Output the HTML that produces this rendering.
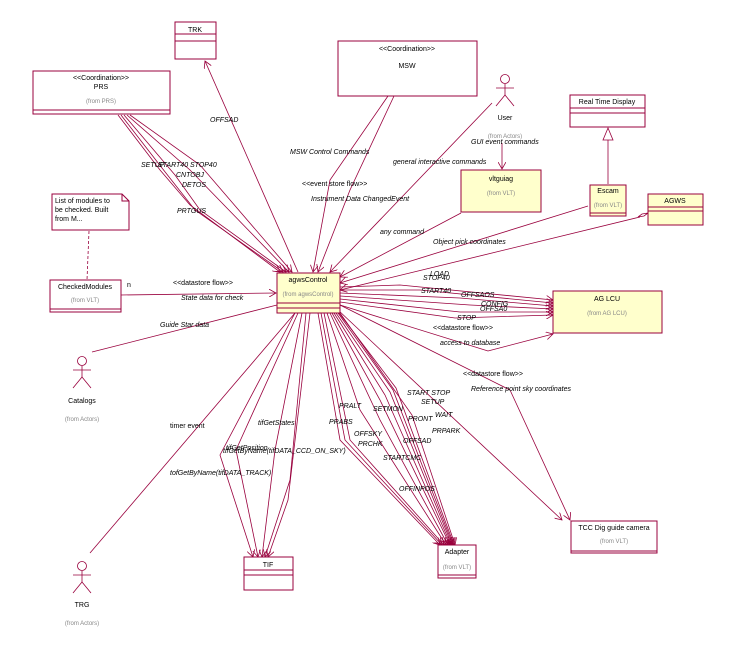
<!DOCTYPE html>
<html><head><style>
html,body{margin:0;padding:0;background:#fff}
svg{display:block}
text{font-family:"Liberation Sans",sans-serif;font-size:7px;fill:#000}
.i{font-style:italic}
.g{fill:#888;font-size:6px}
</style></head><body>
<svg width="736" height="658" viewBox="0 0 736 658" xmlns="http://www.w3.org/2000/svg">
<defs>
<marker id="a" markerWidth="8" markerHeight="8" refX="7" refY="4" orient="auto" markerUnits="userSpaceOnUse">
<path d="M0,0 L7,4 L0,8" fill="none" stroke="#99003d" stroke-width="0.8"/></marker>
</defs>
<g fill="none" stroke="#99003d" stroke-width="0.8">
<!-- PRS lines -->
<polyline points="118,115 160,170 190,205 280,272" marker-end="url(#a)"/>
<polyline points="121,115 162,168 195,210 283,272" marker-end="url(#a)"/>
<polyline points="124,115 175,175 200,210 286,272" marker-end="url(#a)"/>
<polyline points="127,115 190,170 289,272" marker-end="url(#a)"/>
<polyline points="130,115 200,165 292,272" marker-end="url(#a)"/>
<!-- TRK -->
<line x1="298" y1="272" x2="205" y2="61" marker-end="url(#a)"/>
<!-- MSW -->
<polyline points="388,96 330,180 313,272" marker-end="url(#a)"/>
<polyline points="394,96 350,190 318,272" marker-end="url(#a)"/>
<!-- User -->
<line x1="492" y1="103" x2="330" y2="272" marker-end="url(#a)"/>
<line x1="502" y1="143" x2="502" y2="169" marker-end="url(#a)"/>
<!-- vltgui -->
<line x1="461" y1="213" x2="340" y2="277" marker-end="url(#a)"/>
<line x1="588" y1="206" x2="340" y2="283" marker-end="url(#a)"/>
<line x1="640" y1="217" x2="340" y2="290" marker-end="url(#a)"/>
<!-- AG LCU -->
<polyline points="340,287 400,285 553,300" marker-end="url(#a)"/>
<polyline points="340,290 420,290 553,303" marker-end="url(#a)"/>
<polyline points="340,293 460,298 553,306" marker-end="url(#a)"/>
<polyline points="340,296 470,305 553,309" marker-end="url(#a)"/>
<polyline points="340,299 460,312 553,312" marker-end="url(#a)"/>
<polyline points="340,302 455,318 553,315" marker-end="url(#a)"/>
<polyline points="340,305 488,351 553,334" marker-end="url(#a)"/>
<!-- TCC -->
<line x1="338" y1="310" x2="562" y2="520" marker-end="url(#a)"/>
<polyline points="340,305 510,390 570,520" marker-end="url(#a)"/>
<!-- Adapter -->
<polyline points="318,313 340,440 440,545" marker-end="url(#a)"/>
<polyline points="321,313 345,440 442,545" marker-end="url(#a)"/>
<polyline points="324,313 350,440 444,545" marker-end="url(#a)"/>
<polyline points="327,313 360,410 446,545" marker-end="url(#a)"/>
<polyline points="330,313 380,420 448,545" marker-end="url(#a)"/>
<polyline points="332,313 380,400 450,545" marker-end="url(#a)"/>
<polyline points="334,313 385,395 451,545" marker-end="url(#a)"/>
<polyline points="336,313 390,392 452,545" marker-end="url(#a)"/>
<polyline points="338,313 393,390 453,545" marker-end="url(#a)"/>
<polyline points="339,313 396,388 454,545" marker-end="url(#a)"/>
<polyline points="340,313 412,415 455,545" marker-end="url(#a)"/>
<!-- TIF -->
<polyline points="295,313 220,455 253,557" marker-end="url(#a)"/>
<polyline points="298,313 236,450 258,557" marker-end="url(#a)"/>
<polyline points="302,313 275,450 262,557" marker-end="url(#a)"/>
<polyline points="306,313 290,480 265,557" marker-end="url(#a)"/>
<polyline points="310,313 288,500 268,557" marker-end="url(#a)"/>
<!-- TRG, Catalogs, CheckedModules -->
<line x1="90" y1="553" x2="295" y2="313"/>
<line x1="92" y1="352" x2="277" y2="305"/>
<line x1="121" y1="295" x2="276" y2="293" marker-end="url(#a)"/>
<line x1="89" y1="231" x2="87" y2="280" stroke-dasharray="3,2"/>
<!-- generalization -->
<line x1="608" y1="140" x2="608" y2="184"/>
<polygon points="608,128 603,140 613,140" fill="#fff"/>
<polygon points="648,213 644,216 638,217 642,214" fill="#fff"/>
</g>
<!-- Boxes -->
<g stroke="#99003d" stroke-width="1" fill="#fff">
<rect x="175" y="22" width="41" height="37"/><line x1="175" y1="34" x2="216" y2="34"/><line x1="175" y1="41" x2="216" y2="41"/>
<rect x="33" y="71" width="137" height="43"/><line x1="33" y1="110" x2="170" y2="110"/>
<rect x="338" y="41" width="139" height="55"/>
<rect x="570" y="95" width="75" height="32"/><line x1="570" y1="108" x2="645" y2="108"/><line x1="570" y1="113" x2="645" y2="113"/>
<rect x="590" y="185" width="36" height="31" fill="#ffffcc"/><line x1="590" y1="213" x2="626" y2="213"/>
<rect x="648" y="194" width="55" height="31" fill="#ffffcc"/><line x1="648" y1="207" x2="703" y2="207"/><line x1="648" y1="211" x2="703" y2="211"/>
<rect x="461" y="170" width="80" height="42" fill="#ffffcc"/>
<path d="M52,194 H122 L129,201 V230 H52 Z"/><path d="M122,194 V201 H129" fill="none"/>
<rect x="50" y="280" width="71" height="32"/><line x1="50" y1="309" x2="121" y2="309"/>
<rect x="277" y="273" width="63" height="40" fill="#ffffcc"/><line x1="277" y1="303" x2="340" y2="303"/><line x1="277" y1="308" x2="340" y2="308"/>
<rect x="553" y="291" width="109" height="42" fill="#ffffcc"/>
<rect x="244" y="557" width="49" height="33"/><line x1="244" y1="570" x2="293" y2="570"/><line x1="244" y1="575" x2="293" y2="575"/>
<rect x="438" y="545" width="38" height="33"/><line x1="438" y1="575" x2="476" y2="575"/>
<rect x="571" y="521" width="86" height="32"/><line x1="571" y1="551" x2="657" y2="551"/>
</g>
<!-- Actors -->
<g stroke="#99003d" stroke-width="0.8" fill="#fff">
<circle cx="505" cy="79" r="4.5"/><line x1="505" y1="84" x2="505" y2="95"/><line x1="496" y1="88" x2="514" y2="88"/><polyline points="496,106 505,95 514,106" fill="none"/>
<circle cx="82" cy="361" r="4.5"/><line x1="82" y1="366" x2="82" y2="377"/><line x1="73" y1="370" x2="91" y2="370"/><polyline points="73,388 82,377 91,388" fill="none"/>
<circle cx="82" cy="566" r="4.5"/><line x1="82" y1="571" x2="82" y2="582"/><line x1="73" y1="575" x2="91" y2="575"/><polyline points="73,593 82,582 91,593" fill="none"/>
</g>
<!-- Box text -->
<text x="195" y="32" text-anchor="middle">TRK</text>
<text x="101" y="80" text-anchor="middle">&lt;&lt;Coordination&gt;&gt;</text>
<text x="101" y="89" text-anchor="middle">PRS</text>
<text x="101" y="103" text-anchor="middle" class="g">(from PRS)</text>
<text x="407" y="51" text-anchor="middle">&lt;&lt;Coordination&gt;&gt;</text>
<text x="407" y="68" text-anchor="middle">MSW</text>
<text x="505" y="120" text-anchor="middle">User</text>
<text x="505" y="138" text-anchor="middle" class="g">(from Actors)</text>
<text x="607" y="104" text-anchor="middle">Real Time Display</text>
<text x="608" y="193" text-anchor="middle">Escam</text>
<text x="608" y="207" text-anchor="middle" class="g">(from VLT)</text>
<text x="675" y="203" text-anchor="middle">AGWS</text>
<text x="501" y="181" text-anchor="middle">vltguiag</text>
<text x="501" y="195" text-anchor="middle" class="g">(from VLT)</text>
<text x="55" y="203">List of modules to</text>
<text x="55" y="212">be checked. Built</text>
<text x="55" y="221">from M...</text>
<text x="85" y="289" text-anchor="middle">CheckedModules</text>
<text x="85" y="302" text-anchor="middle" class="g">(from VLT)</text>
<text x="127" y="287">n</text>
<text x="308" y="282" text-anchor="middle">agwsControl</text>
<text x="308" y="296" text-anchor="middle" class="g">(from agwsControl)</text>
<text x="607" y="301" text-anchor="middle">AG LCU</text>
<text x="607" y="315" text-anchor="middle" class="g">(from AG LCU)</text>
<text x="82" y="403" text-anchor="middle">Catalogs</text>
<text x="82" y="421" text-anchor="middle" class="g">(from Actors)</text>
<text x="82" y="607" text-anchor="middle">TRG</text>
<text x="82" y="625" text-anchor="middle" class="g">(from Actors)</text>
<text x="268" y="567" text-anchor="middle">TIF</text>
<text x="457" y="554" text-anchor="middle">Adapter</text>
<text x="457" y="569" text-anchor="middle" class="g">(from VLT)</text>
<text x="614" y="530" text-anchor="middle">TCC Dig guide camera</text>
<text x="614" y="543" text-anchor="middle" class="g">(from VLT)</text>
<!-- Connector labels -->
<g class="i">
<text x="210" y="122">OFFSAD</text>
<text x="141" y="167">SETUP</text><text x="158" y="167">START40</text><text x="190" y="167">STOP40</text>
<text x="176" y="177">CNTOBJ</text><text x="182" y="187">DETOS</text><text x="177" y="213">PRTGUS</text>
<text x="290" y="154">MSW Control Commands</text>
<text x="302" y="186" font-style="normal">&lt;&lt;event store flow&gt;&gt;</text>
<text x="311" y="201">Instrument Data ChangedEvent</text>
<text x="173" y="285" font-style="normal">&lt;&lt;datastore flow&gt;&gt;</text>
<text x="181" y="300">State data for check</text>
<text x="160" y="327">Guide Star data</text>
<text x="393" y="164">general interactive commands</text>
<text x="471" y="144">GUI event commands</text>
<text x="380" y="234">any command</text>
<text x="433" y="244">Object pick coordinates</text>
<text x="430" y="276">LOAD</text><text x="423" y="280">STOP40</text>
<text x="421" y="293">START40</text><text x="461" y="297">OFFSAOS</text>
<text x="481" y="306">CONFIG</text><text x="480" y="311">OFFSA0</text>
<text x="457" y="320">STOP</text>
<text x="433" y="330" font-style="normal">&lt;&lt;datastore flow&gt;&gt;</text>
<text x="440" y="345">access to database</text>
<text x="463" y="376" font-style="normal">&lt;&lt;datastore flow&gt;&gt;</text>
<text x="471" y="391">Reference point sky coordinates</text>
<text x="407" y="395">START STOP</text><text x="421" y="404">SETUP</text>
<text x="435" y="417">WAIT</text><text x="408" y="421">PRONT</text><text x="432" y="433">PRPARK</text>
<text x="339" y="408">PRALT</text><text x="373" y="411">SETMON</text>
<text x="329" y="424">PRABS</text><text x="354" y="436">OFFSKY</text>
<text x="403" y="443">OFFSAD</text><text x="358" y="446">PRCHK</text>
<text x="383" y="460">STARTCMC</text><text x="399" y="491">OFFINPOS</text>
<text x="170" y="428" font-style="normal">timer event</text>
<text x="258" y="425">tifGetStates</text>
<text x="226" y="450">tifGetPosition</text>
<text x="223" y="453">tifGetByName(tifDATA_CCD_ON_SKY)</text>
<text x="170" y="475">tofGetByName(tifDATA_TRACK)</text>
</g>
</svg>
</body></html>
